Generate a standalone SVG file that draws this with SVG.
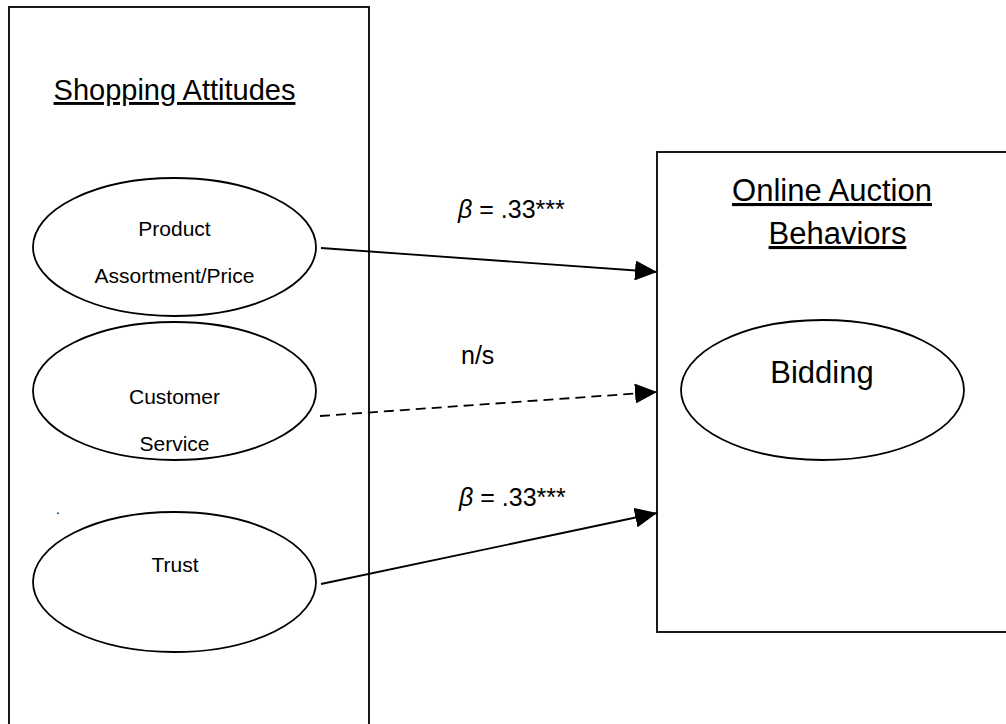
<svg xmlns="http://www.w3.org/2000/svg" width="1006" height="724" viewBox="0 0 1006 724">
  <style>
    .frame { fill: none; stroke: #000; stroke-width: 1.8; }
    .node { fill: #fff; stroke: #000; stroke-width: 1.8; }
    .edge { fill: none; stroke: #000; stroke-width: 1.8; }
    .dash { stroke-dasharray: 10 6; }
    text { font-family: "Liberation Sans", Arial, sans-serif; fill: #000; }
    .title { font-size: 29px; text-decoration: underline; text-anchor: middle; }
    .title-r { font-size: 31px; text-decoration: underline; text-anchor: middle; }
    .small { font-size: 21px; text-anchor: middle; }
    .big { font-size: 31px; text-anchor: middle; }
    .coef { font-size: 25px; }
  </style>
  <defs>
    <marker id="arrow" markerUnits="userSpaceOnUse" markerWidth="22" markerHeight="20" refX="22" refY="10" orient="auto">
      <path d="M0,0 L22,10 L0,20 Z" fill="#000"/>
    </marker>
  </defs>

  <!-- Shopping attitudes panel -->
  <g id="shopping-attitudes">
    <rect class="frame" x="9" y="7" width="360" height="730"/>
    <text class="title" x="174.5" y="100">Shopping Attitudes</text>
  </g>

  <g id="product-assortment">
    <ellipse class="node" cx="174.5" cy="247" rx="141.5" ry="69"/>
    <text class="small" x="174.5" y="236">Product</text>
    <text class="small" x="174.5" y="283">Assortment/Price</text>
  </g>

  <g id="customer-service">
    <ellipse class="node" cx="174.5" cy="391" rx="141.5" ry="69"/>
    <text class="small" x="174.5" y="404">Customer</text>
    <text class="small" x="174.5" y="451">Service</text>
  </g>

  <text x="56" y="514" style="font-size:14px">.</text>

  <g id="trust">
    <ellipse class="node" cx="174.5" cy="582" rx="141.5" ry="70"/>
    <text class="small" x="175" y="572">Trust</text>
  </g>

  <!-- Online auction behaviors panel -->
  <g id="online-auction-behaviors">
    <rect class="frame" x="657" y="152" width="360" height="480"/>
    <text class="title-r" x="832" y="201">Online Auction</text>
    <text class="title-r" x="837.5" y="244">Behaviors</text>
  </g>

  <g id="bidding">
    <ellipse class="node" cx="822.5" cy="390" rx="141.5" ry="70"/>
    <text class="big" x="822" y="383">Bidding</text>
  </g>

  <!-- Path coefficients -->
  <g id="connectors">
    <line class="edge" x1="321" y1="248" x2="657" y2="272" marker-end="url(#arrow)"/>
    <line class="edge dash" x1="320" y1="416" x2="657" y2="392" marker-end="url(#arrow)"/>
    <line class="edge" x1="321" y1="584" x2="657" y2="513" marker-end="url(#arrow)"/>
    <text class="coef" x="458" y="218"><tspan font-style="italic">β</tspan> = .33***</text>
    <text class="coef" x="461" y="364">n/s</text>
    <text class="coef" x="459" y="506"><tspan font-style="italic">β</tspan> = .33***</text>
  </g>
</svg>
